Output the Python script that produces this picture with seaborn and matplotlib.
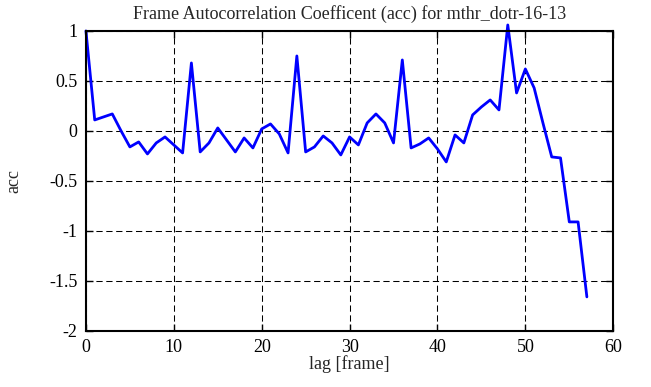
import numpy as np
import pandas as pd
import matplotlib
matplotlib.use("Agg")
import matplotlib.pyplot as plt
import seaborn as sns

# lag values and autocorrelation
lags = list(range(58))
acc = [1.00, 0.11, 0.14, 0.17, 0.00, -0.16, -0.11, -0.23, -0.12, -0.06,
       -0.14, -0.22, 0.68, -0.21, -0.12, 0.03, -0.09, -0.21, -0.07, -0.17,
       0.02, 0.07, -0.03, -0.22, 0.75, -0.21, -0.16, -0.05, -0.12, -0.24,
       -0.06, -0.14, 0.08, 0.17, 0.08, -0.12, 0.71, -0.17, -0.13, -0.07,
       -0.18, -0.31, -0.04, -0.12, 0.16, 0.24, 0.31, 0.21, 1.06, 0.38,
       0.62, 0.43, 0.08, -0.26, -0.27, -0.91, -0.91, -1.66]

xticks = [0, 10, 20, 30, 40, 50, 60]
yticks = [-2, -1.5, -1, -0.5, 0, 0.5, 1]
ytick_labels = ["-2", "-1.5", "-1", "-0.5", "0", "0.5", "1"]

df = pd.DataFrame({"lag": lags, "acc": acc})

sns.set_style("white")
plt.rcParams["font.family"] = ["Liberation Serif", "DejaVu Serif"]
plt.rcParams["axes.unicode_minus"] = False

fig = plt.figure(figsize=(6.51, 3.87), dpi=100)
ax = fig.add_axes([0.132, 0.145, 0.810, 0.775])

sns.lineplot(data=df, x="lag", y="acc", ax=ax, color="#0000ff", linewidth=2)
for l in ax.get_lines():
    l.set_clip_on(False)

ax.set_xlim(0, 60)
ax.set_ylim(-2, 1)
ax.set_xticks(xticks)
ax.set_xticklabels([str(t) for t in xticks])
ax.set_yticks(yticks)
ax.set_yticklabels(ytick_labels)

ax.grid(True, color="black", linestyle=(0, (6, 3.5)), linewidth=0.75)
for s in ax.spines.values():
    s.set_visible(True)
    s.set_color("black")
    s.set_linewidth(1.5)

ax.tick_params(direction="in", length=5, width=1, top=True, right=True,
               bottom=True, left=True, labelsize=13, colors="black", pad=6)

ax.set_xlabel("lag [frame]", fontsize=13, labelpad=-1)
ax.set_ylabel("acc", fontsize=13, labelpad=19)
ax.set_title("Frame Autocorrelation Coefficent (acc) for mthr_dotr-16-13",
             fontsize=13, pad=9)

fig.savefig("out.png", dpi=100)
